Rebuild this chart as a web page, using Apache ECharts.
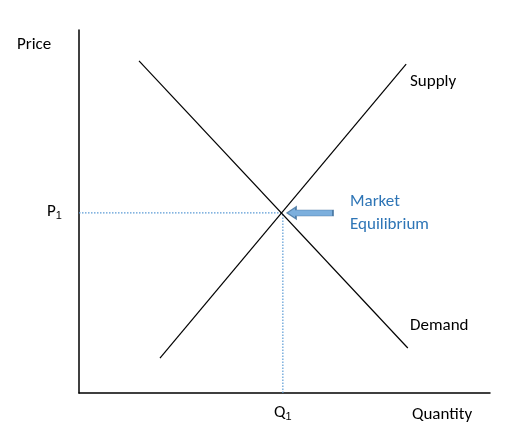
<!DOCTYPE html>
<html><head><meta charset="utf-8">
<script src="https://cdn.jsdelivr.net/npm/echarts@6/dist/echarts.min.js"></script>
<style>html,body{margin:0;padding:0;background:#fff}#c{width:505px;height:439px}</style>
</head><body><div id="c"></div>
<script>
const demand = [[14.6, 91.5], [80.0, 12.4]];
const supply = [[19.7, 9.6], [79.6, 90.6]];
const equilibrium = [49.6, 49.6];
const arrowPos = [[56.2, 49.6]];
const font = 'Calibri, Carlito, "Liberation Sans", sans-serif';
const chart = echarts.init(document.getElementById('c'));
const dot = {color:'#5b9bd5', width:1.2, type:[1.5,1.5]};
chart.setOption({
  animation:false,
  grid:{left:79, top:30, right:15, bottom:46},
  xAxis:{type:'value', min:0, max:100, axisLine:{show:true,lineStyle:{color:'#000',width:1.5}}, axisTick:{show:false}, axisLabel:{show:false}, splitLine:{show:false}},
  yAxis:{type:'value', min:0, max:100, axisLine:{show:true,lineStyle:{color:'#000',width:1.5}}, axisTick:{show:false}, axisLabel:{show:false}, splitLine:{show:false}},
  series:[
    {type:'line', data:[[0,equilibrium[1]],equilibrium], symbol:'none', lineStyle:dot},
    {type:'line', data:[[equilibrium[0],0],equilibrium], symbol:'none', lineStyle:dot},
    {type:'line', data:demand, symbol:'none', lineStyle:{color:'#000',width:1.2}},
    {type:'line', data:supply, symbol:'none', lineStyle:{color:'#000',width:1.2}},
    {type:'scatter', data:arrowPos, symbol:'path://M0,6 L9,0 L9,3 L46,3 L46,9 L9,9 L9,12 Z', symbolSize:[46,12],
     itemStyle:{color:'#5b9bd5', borderColor:'#41719c', borderWidth:1}}
  ],
  graphic:[
    {type:'text', left:17, top:36, style:{text:'Price', font:'17px '+font, fill:'#000'}},
    {type:'text', left:47, top:203, style:{text:'P{s|1}', font:'17px '+font, fill:'#000', rich:{s:{fontSize:11, verticalAlign:'bottom', padding:[8,0,0,0]}}}},
    {type:'text', left:274, top:404, style:{text:'Q{s|1}', font:'17px '+font, fill:'#000', rich:{s:{fontSize:11, verticalAlign:'bottom', padding:[8,0,0,0]}}}},
    {type:'text', left:412, top:406, style:{text:'Quantity', font:'17px '+font, fill:'#000'}},
    {type:'text', left:410, top:73, style:{text:'Supply', font:'17px '+font, fill:'#000'}},
    {type:'text', left:410, top:317, style:{text:'Demand', font:'17px '+font, fill:'#000'}},
    {type:'text', left:350, top:190, style:{text:'Market\nEquilibrium', font:'17px '+font, fill:'#2e75b6', lineHeight:23}}
  ]
});
</script></body></html>
